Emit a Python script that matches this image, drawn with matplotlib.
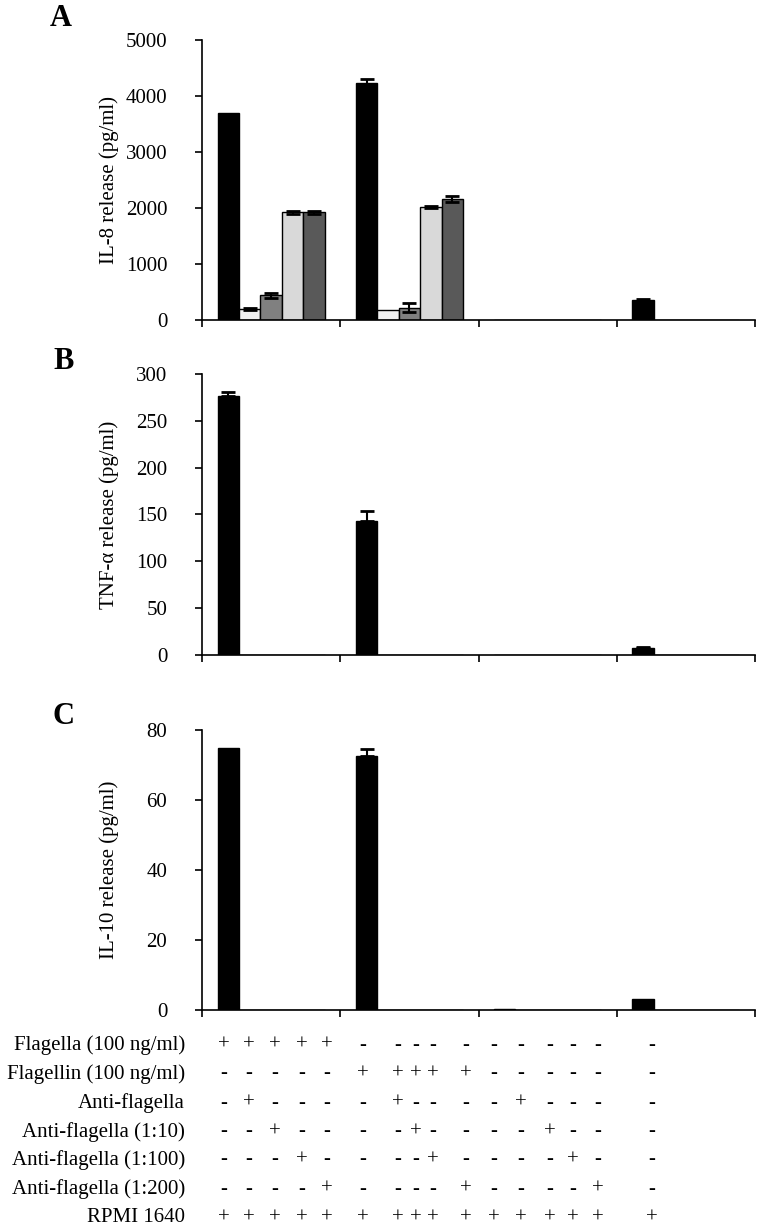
import numpy as np
import matplotlib
matplotlib.use("Agg")
import matplotlib.pyplot as plt

plt.rcParams['font.family'] = ['Liberation Serif', 'DejaVu Serif']

# 4 groups on the x axis, 5 bar slots per group
il8 = [[3700, 200, 440, 1920, 1920],
       [4240, 170, 220, 2020, 2160],
       [0, 0, 0, 0, 0],
       [350, 0, 0, 0, 0]]
il8_err = [[0, 20, 50, 25, 25],
           [60, 0, 80, 20, 60],
           [0, 0, 0, 0, 0],
           [25, 0, 0, 0, 0]]
tnf = [[276, 0, 0, 0, 0],
       [143, 0, 0, 0, 0],
       [0, 0, 0, 0, 0],
       [7, 0, 0, 0, 0]]
tnf_err = [[5, 0, 0, 0, 0],
           [11, 0, 0, 0, 0],
           [0, 0, 0, 0, 0],
           [1.5, 0, 0, 0, 0]]
il10 = [[75, 0, 0, 0, 0],
        [72.5, 0, 0, 0, 0],
        [0.4, 0, 0, 0, 0],
        [3.2, 0, 0, 0, 0]]
il10_err = [[0, 0, 0, 0, 0],
            [2, 0, 0, 0, 0],
            [0, 0, 0, 0, 0],
            [0, 0, 0, 0, 0]]

slot_colors = ['#000000', '#f2f2f2', '#808080', '#d9d9d9', '#595959']

row_labels = ['Flagella (100 ng/ml)', 'Flagellin (100 ng/ml)', 'Anti-flagella',
              'Anti-flagella (1:10)', 'Anti-flagella (1:100)', 'Anti-flagella (1:200)',
              'RPMI 1640']
rows = ['+++++-----------',
        '-----+++++------',
        '-+----+----+----',
        '--+----+----+---',
        '---+----+----+--',
        '----+----+----+-',
        '++++++++++++++++']
# column x positions (pixels) and row y positions (pixels) of the condition table
col_px = [224, 249, 275, 302, 327, 363, 398, 416, 433, 466, 494, 521, 550, 573, 598, 652]
row_px = [1045, 1074, 1103, 1132, 1160, 1189, 1218]

W, H = 762, 1232
fig = plt.figure(figsize=(W / 100, H / 100), dpi=100)

def make_ax(top, bottom):
    left, right = 202, 755
    return fig.add_axes([left / W, 1 - bottom / H, (right - left) / W, (bottom - top) / H])

ax_a = make_ax(40, 320)
ax_b = make_ax(374, 655)
ax_c = make_ax(730, 1010)

bw = 0.155
off = (1 - 5 * bw) / 2

def draw(ax, vals, errs, ymax, step, ylabel, two_sided):
    vals = np.array(vals, dtype=float)
    errs = np.array(errs, dtype=float)
    for s in range(5):
        x = np.arange(4) + off + (s + 0.5) * bw
        ax.bar(x, vals[:, s], width=bw, color=slot_colors[s], edgecolor='black',
               linewidth=1.0, zorder=2)
        m = errs[:, s] > 0
        if m.any():
            if two_sided:
                yerr = errs[m, s]
            else:
                yerr = [np.zeros(m.sum()), errs[m, s]]
            ax.errorbar(x[m], vals[m, s], yerr=yerr, fmt='none', ecolor='black',
                        elinewidth=1.5, capsize=5, capthick=2, zorder=3)
    ax.set_xlim(0, 4)
    ax.set_ylim(0, ymax)
    ax.set_yticks(np.arange(0, ymax + 1, step))
    ax.set_xticks(np.arange(5))
    ax.set_xticklabels([])
    ax.spines['top'].set_visible(False)
    ax.spines['right'].set_visible(False)
    ax.spines['left'].set_linewidth(1.2)
    ax.spines['bottom'].set_linewidth(1.2)
    ax.tick_params(axis='y', direction='out', length=5, width=1.2, labelsize=15, pad=20)
    ax.tick_params(axis='x', direction='out', length=5, width=1.2)
    ax.set_ylabel(ylabel, fontsize=15)
    ax.yaxis.set_label_coords(-0.15, 0.5)

draw(ax_a, il8, il8_err, 5000, 1000, 'IL-8 release (pg/ml)', True)
draw(ax_b, tnf, tnf_err, 300, 50, 'TNF-α release (pg/ml)', False)
draw(ax_c, il10, il10_err, 80, 20, 'IL-10 release (pg/ml)', False)

for letter, (lx, ly) in zip('ABC', [(61, 19), (64, 362), (63, 717)]):
    fig.text(lx / W, 1 - ly / H, letter, fontsize=22, fontweight='bold',
             ha='center', va='center')

for lab, row, y in zip(row_labels, rows, row_px):
    fig.text(185 / W, 1 - y / H, lab, fontsize=15, ha='right', va='center')
    for ch, x in zip(row, col_px):
        fig.text(x / W, 1 - y / H, ch, fontsize=15, ha='center', va='center')

fig.savefig('out.png', dpi=100)
